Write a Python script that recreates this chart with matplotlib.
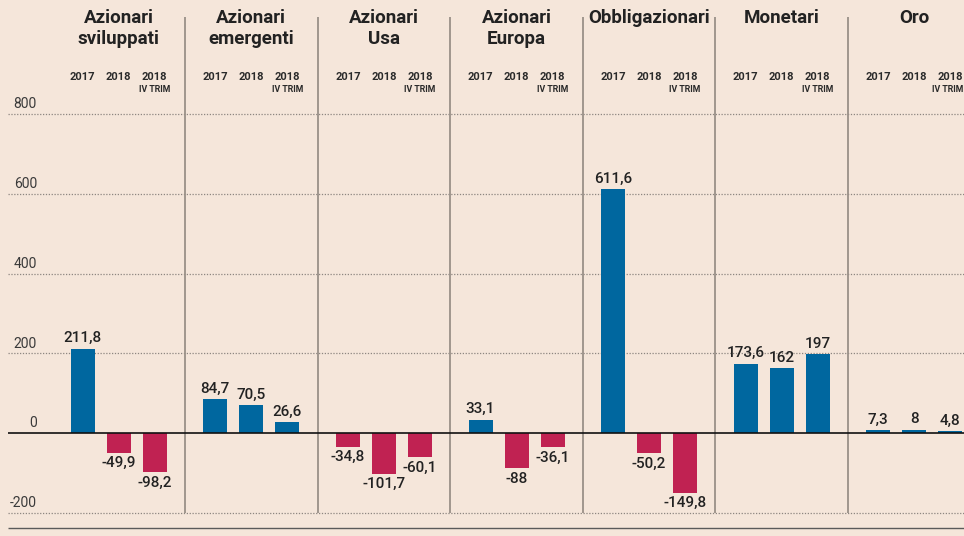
import matplotlib
matplotlib.use("Agg")
import matplotlib.pyplot as plt

categories = ["Azionari\nsviluppati", "Azionari\nemergenti", "Azionari\nUsa",
              "Azionari\nEuropa", "Obbligazionari", "Monetari", "Oro"]
series_labels = ["2017", "2018", "2018"]
series_sublabels = ["", "", "IV TRIM"]
v2017 = [211.8, 84.7, -34.8, 33.1, 611.6, 173.6, 7.3]
v2018 = [-49.9, 70.5, -101.7, -88, -50.2, 162, 8]
v2018q4 = [-98.2, 26.6, -60.1, -36.1, -149.8, 197, 4.8]
yticks = [-200, 0, 200, 400, 600, 800]

BG = "#f5e6da"
BLUE = "#00679f"
RED = "#c02252"

plt.rcParams['font.family'] = ['Roboto', 'DejaVu Sans']

W, H = 964, 536
fig = plt.figure(figsize=(W / 100, H / 100), dpi=100, facecolor=BG)
ax = fig.add_axes([0, 0, 1, 1], facecolor=BG)

# pixel geometry
zero_px = 433.0
ppu = 0.3985          # pixels per unit
g0_px = 118.7         # centre of first group
gstep = 132.6         # pixels between groups
ax.set_ylim(-(H - zero_px) / ppu, zero_px / ppu)
ax.set_xlim(-g0_px / gstep, (W - g0_px) / gstep)
ax.axis("off")

def xpx(p):
    return (p - g0_px) / gstep

def ypx(p):
    return (zero_px - p) / ppu

off = 36 / gstep
bw = 24 / gstep
series = [v2017, v2018, v2018q4]
xmax = xpx(W - 1)

# grid lines
for t in yticks:
    if t == 0:
        continue
    ax.hlines(t, xpx(8), xpx(W), colors="#8d8680", linestyles=(0, (1, 1.3)), lw=0.9, zorder=1)
    ax.annotate(str(t), (xpx(37), t), xytext=(0, 2), textcoords="offset points",
                ha="right", va="bottom", fontsize=10, color="#3a3a3a")
ax.annotate("0", (xpx(37), 0), xytext=(0, 2), textcoords="offset points",
            ha="right", va="bottom", fontsize=10, color="#3a3a3a")

# separators
for i in range(len(categories) - 1):
    ax.vlines(i + 0.5, ypx(513), ypx(17), colors="#9a9088", lw=1.3, zorder=1)

# bars
for j, vals in enumerate(series):
    xs = [i + (j - 1) * off for i in range(len(categories))]
    cols = [BLUE if v >= 0 else RED for v in vals]
    ax.bar(xs, vals, width=bw, color=cols, zorder=3)
    for x, v in zip(xs, vals):
        s = str(int(v)) if float(v).is_integer() else f"{v:.1f}".replace(".", ",")
        if v >= 0:
            ax.annotate(s, (x, v), xytext=(0, 2.5), textcoords="offset points",
                        ha="center", va="bottom", fontsize=11, fontweight="medium",
                        color="#222222", zorder=4)
        else:
            ax.annotate(s, (x, v), xytext=(0, -2.5), textcoords="offset points",
                        ha="center", va="top", fontsize=11, fontweight="medium",
                        color="#222222", zorder=4)
    # column headers
    for x in xs:
        ax.text(x, ypx(77), series_labels[j], ha="center", va="center",
                fontsize=8, fontweight="bold", color="#2a2a2a")
        if series_sublabels[j]:
            half = 16 / gstep
            if x + half > xmax:
                ax.text(xmax, ypx(90), series_sublabels[j], ha="right", va="center",
                        fontsize=6.3, fontweight="bold", color="#2a2a2a")
            else:
                ax.text(x, ypx(90), series_sublabels[j], ha="center", va="center",
                        fontsize=6.3, fontweight="bold", color="#2a2a2a")

# zero line and bottom rule
ax.hlines(0, xpx(8), xpx(W), colors="#111111", lw=1.2, zorder=5)
ax.hlines(ypx(528), xpx(8), xpx(W), colors="#5a5a5a", lw=1.0, zorder=5)

# group titles
for i, c in enumerate(categories):
    ax.text(i, ypx(9), c, ha="center", va="top", fontsize=13.5, fontweight="bold",
            color="#222222", linespacing=1.2)

fig.savefig("out.png", dpi=100, facecolor=BG)
